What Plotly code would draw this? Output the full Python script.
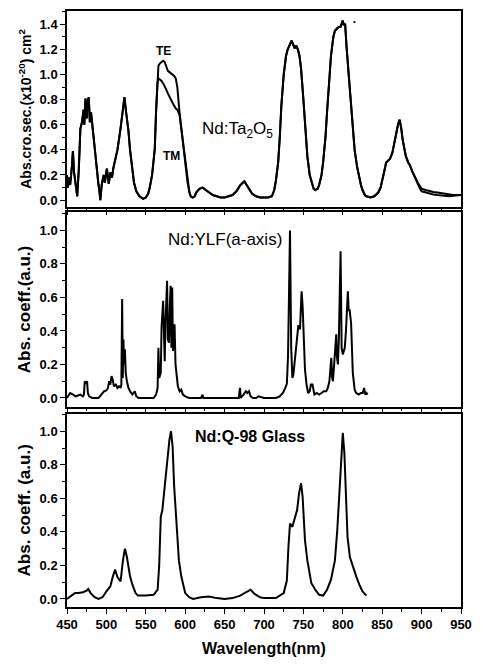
import plotly.graph_objects as go

# ---------------- data ----------------
# Panel 1: Nd:Ta2O5 absorption cross section (x1e-20 cm^2), TE and TM
ta_wl = [450, 451, 452.5, 454, 456, 457.5, 459, 461, 463, 465, 467, 469, 471, 472, 473.5, 475, 476,
         477.6, 479, 480.5, 482, 484, 486, 488, 490, 491, 492.3, 494, 496.5, 498, 500.6, 502, 503,
         505, 507, 509, 511, 514, 517.5, 520, 522.9, 525, 528, 530, 532, 535, 538, 542, 546.7, 550,
         553, 555, 558, 561.4, 563, 564.7, 566, 568, 570, 572, 574, 576, 578, 580, 582, 584.4, 586,
         588, 590, 592.8, 595, 597, 599, 601, 603, 605.4, 607, 609.5, 612, 614, 618, 622, 626, 630,
         635, 640, 645, 650, 655, 660, 665, 670, 675, 678, 680, 685, 690, 695, 700, 705, 710, 713,
         715, 718, 720, 722, 725, 728, 730, 733, 735, 737, 739, 741, 743, 745, 747, 750, 752, 755,
         758, 760, 763, 765, 768, 770, 773, 775, 778, 780, 782, 785, 788, 790, 793, 795, 797, 799,
         800, 801, 803, 805, 807, 810, 812, 815, 818, 820, 823, 825, 828, 830, 835, 840, 845, 848,
         850, 853, 855, 858, 860, 863, 865, 868, 870, 872, 874, 876, 878, 880, 883, 885, 888, 890,
         893, 895, 898, 900, 905, 910, 915, 920, 925, 930, 935, 940, 945, 950]
ta_te = [0.20, 0.10, 0.18, 0.12, 0.25, 0.39, 0.22, 0.10, 0.03, 0.25, 0.57, 0.62, 0.72, 0.60, 0.81, 0.65, 0.78,
         0.82, 0.62, 0.70, 0.60, 0.50, 0.36, 0.22, 0.12, 0.08, 0.00, 0.12, 0.20, 0.14, 0.25, 0.18, 0.13,
         0.22, 0.18, 0.26, 0.31, 0.40, 0.55, 0.68, 0.82, 0.70, 0.55, 0.40, 0.28, 0.14, 0.07, 0.03, 0.01, 0.02,
         0.05, 0.10, 0.20, 0.41, 0.70, 0.98, 1.07, 1.09, 1.10, 1.11, 1.10, 1.06, 1.03, 1.02, 1.01, 1.00, 0.99,
         0.97, 0.90, 0.70, 0.57, 0.47, 0.35, 0.25, 0.14, 0.06, 0.03, 0.02, 0.03, 0.06, 0.09, 0.10, 0.08, 0.06,
         0.04, 0.03, 0.02, 0.02, 0.03, 0.04, 0.07, 0.12, 0.15, 0.12, 0.10, 0.05, 0.03, 0.02, 0.02, 0.02, 0.03, 0.08,
         0.15, 0.30, 0.50, 0.75, 1.00, 1.15, 1.20, 1.25, 1.27, 1.24, 1.21, 1.23, 1.20, 1.15, 1.05, 0.80, 0.60, 0.35,
         0.20, 0.15, 0.09, 0.08, 0.09, 0.12, 0.20, 0.30, 0.50, 0.70, 0.90, 1.15, 1.30, 1.35, 1.37, 1.38, 1.38, 1.42,
         1.43, 1.40, 1.40, 1.20, 1.05, 0.80, 0.62, 0.40, 0.27, 0.20, 0.12, 0.08, 0.04, 0.03, 0.02, 0.03, 0.06, 0.10,
         0.15, 0.24, 0.30, 0.32, 0.33, 0.38, 0.45, 0.55, 0.60, 0.64, 0.58, 0.48, 0.40, 0.35, 0.30, 0.28, 0.23, 0.20,
         0.16, 0.14, 0.11, 0.09, 0.08, 0.07, 0.065, 0.06, 0.055, 0.05, 0.04, 0.04, 0.04, 0.04]
ta_tm = [0.20, 0.10, 0.18, 0.12, 0.25, 0.39, 0.22, 0.10, 0.03, 0.25, 0.57, 0.62, 0.72, 0.60, 0.81, 0.65, 0.78,
         0.82, 0.62, 0.70, 0.60, 0.50, 0.36, 0.22, 0.12, 0.08, 0.00, 0.12, 0.20, 0.14, 0.25, 0.18, 0.13,
         0.22, 0.18, 0.26, 0.31, 0.40, 0.55, 0.68, 0.82, 0.70, 0.55, 0.40, 0.28, 0.14, 0.07, 0.03, 0.01, 0.02,
         0.05, 0.10, 0.20, 0.41, 0.70, 0.93, 0.97, 0.96, 0.95, 0.93, 0.91, 0.88, 0.85, 0.83, 0.80, 0.77, 0.75,
         0.73, 0.72, 0.68, 0.57, 0.47, 0.35, 0.25, 0.14, 0.06, 0.03, 0.02, 0.03, 0.06, 0.09, 0.10, 0.08, 0.06,
         0.04, 0.03, 0.02, 0.02, 0.03, 0.04, 0.07, 0.12, 0.15, 0.12, 0.10, 0.05, 0.03, 0.02, 0.02, 0.02, 0.03, 0.08,
         0.15, 0.30, 0.50, 0.75, 1.00, 1.15, 1.20, 1.25, 1.27, 1.24, 1.21, 1.23, 1.20, 1.15, 1.05, 0.80, 0.60, 0.35,
         0.20, 0.15, 0.09, 0.08, 0.09, 0.12, 0.20, 0.30, 0.50, 0.70, 0.90, 1.15, 1.30, 1.35, 1.37, 1.38, 1.38, 1.42,
         1.43, 1.40, 1.40, 1.20, 1.05, 0.80, 0.62, 0.40, 0.27, 0.20, 0.12, 0.08, 0.04, 0.03, 0.02, 0.03, 0.06, 0.10,
         0.15, 0.24, 0.30, 0.32, 0.33, 0.38, 0.45, 0.55, 0.60, 0.64, 0.58, 0.48, 0.40, 0.35, 0.30, 0.28, 0.23, 0.20,
         0.16, 0.13, 0.09, 0.07, 0.06, 0.05, 0.045, 0.04, 0.035, 0.03, 0.03, 0.035, 0.04, 0.04]

# Panel 2: Nd:YLF (a-axis) absorption coefficient (a.u.)
ylf_wl = [450, 452, 454, 456, 458, 461, 464, 467, 470, 471.5, 472.5, 474, 475.5, 476.5, 478, 482, 490,
          494, 497, 500, 502, 503.5, 505, 506.5, 508, 509.5, 512, 514, 516, 518, 519, 520, 520.8, 521.6,
          522.5, 523.5, 524.5, 526, 528, 530, 533, 536, 538, 541, 560, 563, 565, 566, 567, 569, 570, 572,
          573, 574, 575, 577, 578, 579.4, 580.5, 581.5, 582.5, 583.5, 584.5, 586.5, 587.7, 589, 590.7, 593,
          595, 597, 600, 605, 620, 622, 623, 650, 668, 669.5, 670.5, 674, 677, 679, 681, 683, 686, 690,
          693, 700, 715, 720, 724, 727, 729, 730.5, 733, 734.5, 736, 737.3, 739, 740, 741.5, 743.6, 745.7,
          747.7, 749, 750, 752, 754, 756, 758, 759.5, 761.5, 763, 764, 767, 770, 773, 776, 779, 781, 783,
          785.4, 786.5, 787.5, 789, 791.7, 792.5, 793.8, 795, 797.2, 798.5, 800, 802.5, 804, 806.4, 807.5,
          808.5, 810.5, 812.7, 815, 816.8, 820, 823, 825.3, 827, 828.5, 830, 831.5]
ylf_abs = [0.00, 0.02, 0.03, 0.025, 0.02, 0.01, 0.015, 0.02, 0.01, 0.02, 0.10, 0.09, 0.10, 0.03, 0.01, 0.00, 0.00,
           0.02, 0.04, 0.045, 0.06, 0.10, 0.08, 0.13, 0.11, 0.07, 0.08, 0.06, 0.07, 0.06, 0.08, 0.59, 0.12, 0.35,
           0.20, 0.29, 0.15, 0.10, 0.06, 0.04, 0.02, 0.04, 0.01, 0.00, 0.00, 0.02, 0.06, 0.30, 0.12, 0.15, 0.42, 0.58,
           0.25, 0.22, 0.45, 0.70, 0.35, 0.33, 0.55, 0.67, 0.30, 0.66, 0.28, 0.44, 0.20, 0.12, 0.07, 0.04,
           0.05, 0.02, 0.01, 0.00, 0.00, 0.02, 0.00, 0.00, 0.00, 0.06, 0.00, 0.02, 0.04, 0.03, 0.04, 0.01, 0.00, 0.00,
           0.01, 0.00, 0.00, 0.01, 0.03, 0.06, 0.085, 0.25, 1.00, 0.30, 0.12, 0.14, 0.22, 0.25, 0.30, 0.435, 0.41,
           0.637, 0.55, 0.45, 0.17, 0.08, 0.03, 0.04, 0.08, 0.08, 0.03, 0.02, 0.03, 0.02, 0.03, 0.04, 0.04, 0.06, 0.10,
           0.24, 0.12, 0.10, 0.20, 0.38, 0.25, 0.20, 0.35, 0.875, 0.30, 0.26, 0.30, 0.40, 0.637, 0.52,
           0.53, 0.45, 0.15, 0.05, 0.03, 0.02, 0.03, 0.03, 0.06, 0.02, 0.03, 0.02]

# Panel 3: Nd:Q-98 glass absorption coefficient (a.u.)
gl_wl = [450, 455, 460, 465, 470, 475, 477, 480, 485, 490, 495, 500, 505, 508, 511, 514, 518, 521, 523.5,
         526, 530, 533, 537, 540, 550, 560, 565, 567, 569, 571, 573, 576, 578, 580, 582, 584, 586, 589, 592,
         595, 598, 600, 605, 610, 620, 630, 640, 650, 660, 670, 677, 683, 688, 695, 700, 715, 725, 729, 731,
         733, 736, 740, 742, 744.5, 747, 749, 752, 755, 760, 765, 770, 775, 780, 785, 790, 793, 796, 798,
         800, 802, 804, 806, 809, 813, 817, 821, 825, 830]
gl_abs = [0.00, 0.015, 0.035, 0.035, 0.04, 0.05, 0.06, 0.035, 0.01, 0.00, 0.01, 0.045, 0.075, 0.13, 0.175, 0.13,
          0.105, 0.23, 0.30, 0.25, 0.135, 0.085, 0.035, 0.02, 0.02, 0.025, 0.055, 0.20, 0.49, 0.53, 0.63, 0.79,
          0.85, 0.95, 1.00, 0.91, 0.67, 0.41, 0.23, 0.135, 0.065, 0.035, 0.01, 0.00, 0.01, 0.015, 0.005, 0.00,
          0.005, 0.02, 0.04, 0.055, 0.03, 0.01, 0.005, 0.005, 0.035, 0.11, 0.31, 0.45, 0.43, 0.50, 0.53, 0.63,
          0.69, 0.61, 0.35, 0.23, 0.095, 0.055, 0.025, 0.02, 0.055, 0.115, 0.23, 0.41, 0.63, 0.81, 0.99, 0.87,
          0.59, 0.37, 0.25, 0.19, 0.135, 0.085, 0.045, 0.02]

x_ticks = [450, 500, 550, 600, 650, 700, 750, 800, 850, 900, 950]

# ---------------- figure ----------------
FONT = "Arial, Liberation Sans, sans-serif"
line_style = dict(color="black", width=2)

fig = go.Figure()
fig.add_trace(go.Scatter(x=ta_wl, y=ta_te, mode="lines", line=line_style, name="TE", xaxis="x", yaxis="y"))
fig.add_trace(go.Scatter(x=ta_wl, y=ta_tm, mode="lines", line=line_style, name="TM", xaxis="x", yaxis="y"))
fig.add_trace(go.Scatter(x=ylf_wl, y=ylf_abs, mode="lines", line=line_style, name="Nd:YLF", xaxis="x2", yaxis="y2"))
fig.add_trace(go.Scatter(x=gl_wl, y=gl_abs, mode="lines", line=line_style, name="Nd:Q-98", xaxis="x3", yaxis="y3"))

tickfont = dict(family=FONT, size=13, color="black", weight="bold")


def xax(anchor, labels):
    d = dict(anchor=anchor, range=[450, 950], tickvals=x_ticks, showline=True, linecolor="black",
             linewidth=1.5, mirror=True, ticks="outside", ticklen=6 if not labels else 5, tickwidth=1.2,
             tickcolor="black", showgrid=False, zeroline=False, showticklabels=labels, tickfont=tickfont,
             minor=dict(dtick=25, tick0=450, ticks="outside", ticklen=3, tickwidth=1, tickcolor="black"))
    return d


def yax(anchor, dom, rng, tmax, title, tsize):
    vals = [round(0.2 * i, 1) for i in range(int(round(tmax / 0.2)) + 1)]
    return dict(anchor=anchor, domain=dom, range=rng, tickvals=vals, ticktext=[f"{v:.1f}" for v in vals],
                showline=True, linecolor="black", linewidth=1.5, mirror=True, ticks="outside", ticklen=5,
                tickwidth=1.2, tickcolor="black", showgrid=False, zeroline=False, tickfont=tickfont,
                minor=dict(dtick=0.1, tick0=0, ticks="outside", ticklen=3, tickwidth=1, tickcolor="black"),
                title=dict(text=title, font=dict(family=FONT, size=tsize, color="black", weight="bold"),
                           standoff=5))


fig.update_layout(
    width=481, height=664,
    margin=dict(l=67, r=16, t=9, b=57),
    paper_bgcolor="white", plot_bgcolor="white",
    showlegend=False,
    xaxis=xax("y", False),
    xaxis2=xax("y2", False),
    xaxis3=dict(xax("y3", True),
                title=dict(text="Wavelength(nm)", font=dict(family=FONT, size=16, color="black", weight="bold"),
                           standoff=11)),
    yaxis=yax("x", [0.6714, 1.0], [-0.054, 1.507], 1.4, "Abs.cro.sec.(x10<sup>-20</sup>) cm<sup>2</sup>", 14),
    yaxis2=yax("x2", [0.3361, 0.6622], [-0.052, 1.108], 1.0, "Abs. coeff.(a.u.)", 17),
    yaxis3=yax("x3", [0.0, 0.3244], [-0.048, 1.105], 1.0, "Abs. coeff. (a.u.)", 17),
)

ann_font = dict(family=FONT, color="black")
fig.add_annotation(x=572.3, y=1.19, xref="x", yref="y", text="TE", showarrow=False,
                   font=dict(ann_font, size=12, weight="bold"))
fig.add_annotation(x=582.8, y=0.355, xref="x", yref="y", text="TM", showarrow=False,
                   font=dict(ann_font, size=12, weight="bold"))
fig.add_annotation(x=666, y=0.56, xref="x", yref="y", text="Nd:Ta<sub>2</sub>O<sub>5</sub>", showarrow=False,
                   font=dict(ann_font, size=17))
fig.add_annotation(x=814.7, y=1.425, xref="x", yref="y", text="•", showarrow=False,
                   font=dict(ann_font, size=8))
fig.add_annotation(x=650.4, y=0.945, xref="x2", yref="y2", text="Nd:YLF(a-axis)", showarrow=False,
                   font=dict(ann_font, size=17))
fig.add_annotation(x=681.8, y=0.966, xref="x3", yref="y3", text="Nd:Q-98 Glass", showarrow=False,
                   font=dict(ann_font, size=16, weight="bold"))

fig.write_html("out.html", config={"displayModeBar": False},
               post_script="document.body.style.margin='0';document.body.style.overflow='hidden';")
